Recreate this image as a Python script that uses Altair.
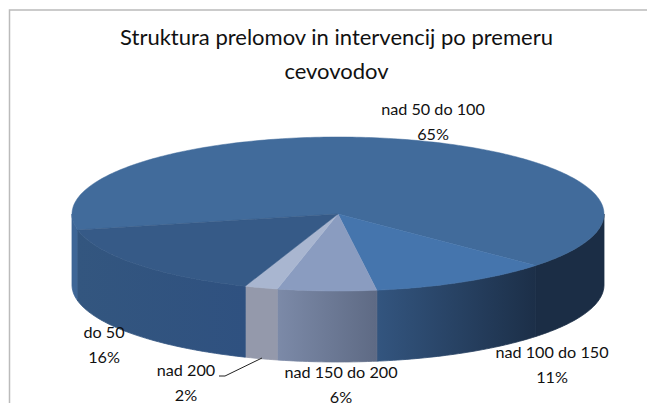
import numpy as np
import pandas as pd
import altair as alt

names = ["nad 50 do 100", "nad 100 do 150", "nad 150 do 200", "nad 200", "do 50"]
shares = [65, 11, 6, 2, 16]
top_colors = ["#416B9B", "#4575AD", "#8A9CC0", "#A9B6D0", "#365A87"]
side_left = ["#3E6696", "#33557F", "#7C8AA8", "#9499AB", "#33567F"]
side_right = ["#1B2D45", "#1C2F48", "#5E6A84", "#9499AB", "#2F5180"]

W, H = 639, 395
CX, CY, RX, RY, DEPTH = 338, 214, 266, 77, 71
START = 168.0  # degrees, clockwise from the right-hand end of the ellipse

xs = alt.X("x:Q", scale=alt.Scale(domain=[8, 8 + W]), axis=None)
ys = alt.Y("y:Q", scale=alt.Scale(domain=[8 + H, 8]), axis=None)


def edge(a0, a1, dy=0.0):
    t = np.radians(np.arange(a0, a1, 1.0).tolist() + [a1])
    return CX + RX * np.cos(t), CY + dy + RY * np.sin(t)


def polygon(px, py, **mark):
    df = pd.DataFrame({"x": px, "y": py, "o": np.arange(len(px))})
    return alt.Chart(df).mark_line(**mark).encode(x=xs, y=ys, order="o:Q")


layers = []
angles = START + np.concatenate([[0], np.cumsum(shares)]) * 3.6

# side walls: only the part of each slice that lies on the near half
for i in range(len(shares)):
    spans = []
    for k in (0, 360):
        a0, a1 = max(angles[i], k), min(angles[i + 1], k + 180)
        if a1 > a0:
            spans.append((a0, a1))
    for a0, a1 in spans:
        x0, y0 = edge(a0, a1)
        x1, y1 = edge(a0, a1, DEPTH)
        px = np.concatenate([x0, x1[::-1], x0[:1]])
        py = np.concatenate([y0, y1[::-1], y0[:1]])
        if i == 0:
            # the large slice shows two separate wall pieces
            fill = side_left[0] if a0 < 360 else side_right[0]
        else:
            fill = alt.Gradient(
                gradient="linear", x1=0, x2=1, y1=0, y2=0,
                stops=[alt.GradientStop(offset=0, color=side_left[i]),
                       alt.GradientStop(offset=1, color=side_right[i])],
            )
        layers.append(polygon(px, py, fill=fill, stroke=fill, strokeWidth=0.8))

# top faces
for i in range(len(shares)):
    ex, ey = edge(angles[i], angles[i + 1])
    px = np.concatenate([[CX], ex, [CX]])
    py = np.concatenate([[CY], ey, [CY]])
    layers.append(polygon(px, py, fill=top_colors[i], stroke=top_colors[i], strokeWidth=0.5))

# frame
frame = pd.DataFrame({"x": [9.5, 9.5, 655], "y": [403, 10, 10], "o": [0, 1, 2]})
layers.append(alt.Chart(frame).mark_line(color="#BBBBBB", strokeWidth=1.5).encode(x=xs, y=ys, order="o:Q"))

# leader line for nad 200
leader = pd.DataFrame({"x": [219, 225, 262], "y": [376, 376, 358], "o": [0, 1, 2]})
layers.append(alt.Chart(leader).mark_line(color="#222222", strokeWidth=1).encode(x=xs, y=ys, order="o:Q"))

label_x = [433, 552, 341, 186, 104]
label_y = [110, 353, 373, 371, 333]
labels = pd.DataFrame({
    "x": label_x, "y": label_y,
    "t": [f"{n}\n{s}%" for n, s in zip(names, shares)],
})
layers.append(
    alt.Chart(labels).mark_text(font="Lato", fontSize=16.2, lineBreak="\n", lineHeight=25,
                                color="#111111", align="center", baseline="middle")
    .encode(x=xs, y=ys, text="t:N")
)

title = pd.DataFrame({"x": [336.5], "y": [38], "t": ["Struktura prelomov in intervencij po premeru\ncevovodov"]})
layers.append(
    alt.Chart(title).mark_text(font="Lato", fontSize=22, lineBreak="\n", lineHeight=34,
                               color="#111111", align="center", baseline="middle")
    .encode(x=xs, y=ys, text="t:N")
)

chart = alt.layer(*layers).properties(
    width=W, height=H, padding=0, autosize=alt.AutoSizeParams(type="none"),
    background="white",
).configure_view(stroke=None)

chart.save("out.html", embed_options={"renderer": "svg", "actions": False})
